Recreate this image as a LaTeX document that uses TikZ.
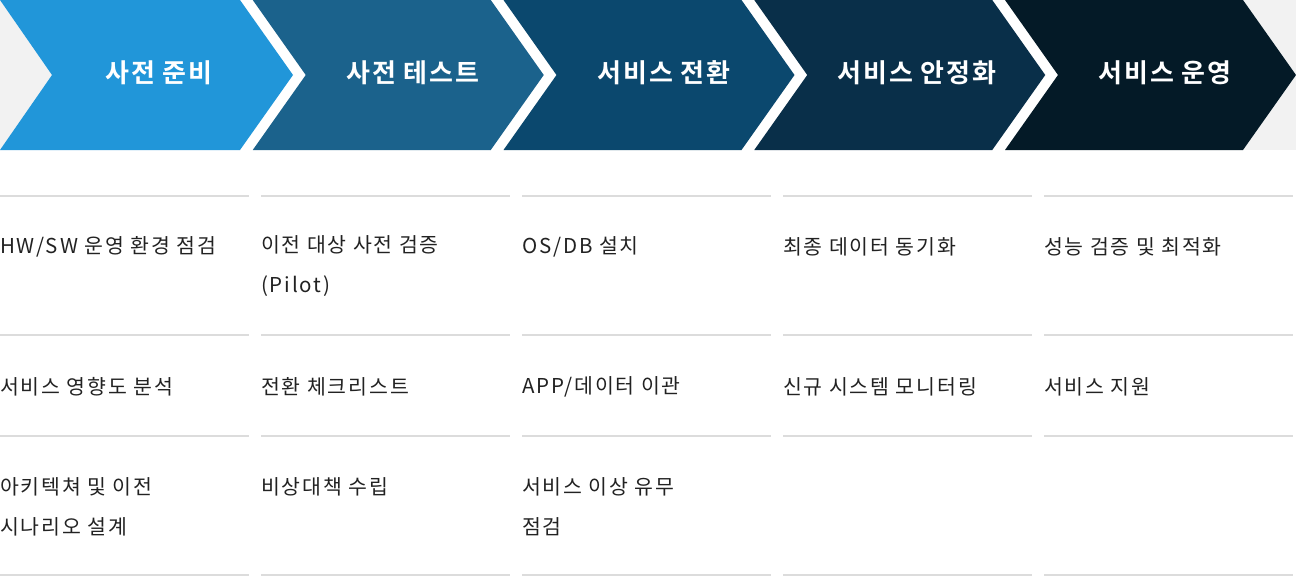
\documentclass[tikz,border=0pt]{standalone}
\usepackage{fontspec}
\newfontfamily\kr{Noto Sans CJK KR}[LetterSpace=9]
\newfontfamily\krb{Noto Sans CJK KR Bold}[LetterSpace=8]
\definecolor{bggray}{RGB}{242,242,242}
\definecolor{cA}{RGB}{33,150,217}
\definecolor{cB}{RGB}{27,98,140}
\definecolor{cC}{RGB}{11,72,110}
\definecolor{cD}{RGB}{9,47,73}
\definecolor{cE}{RGB}{4,26,39}
\definecolor{sep}{RGB}{220,220,220}
\definecolor{txt}{RGB}{34,34,34}
\tikzset{
  hdr/.style={text=white, font=\krb\fontsize{26}{30}\selectfont, inner sep=0pt},
  item/.style={text=txt, font=\kr\fontsize{20.5}{40}\selectfont, anchor=west, align=left, inner sep=0pt},
  rowline/.style={draw=sep, line width=2pt},
}
\begin{document}
\begin{tikzpicture}[x=1pt,y=-1pt]
\useasboundingbox (0,0) rectangle (1296,576);
\fill[white] (0,0) rectangle (1296,576);
\fill[bggray] (0,0) rectangle (1296,150);
% white band under the chevrons
\fill[white] (0,0) -- (1243,0) -- (1296,75) -- (1243,150) -- (0,150) -- (52,75) -- cycle;
% chevrons
\foreach \k/\c in {0/cA,1/cB,2/cC,3/cD,4/cE}{
  \pgfmathsetmacro{\L}{\k==0 ? 0 : 2+250.75*\k}
  \pgfmathsetmacro{\R}{240+250.75*\k}
  \pgfmathsetmacro{\dl}{\k==0 ? 52 : 53}
  \fill[\c] (\L,0) -- (\R,0) -- (\R+53,75) -- (\R,150) -- (\L,150) -- (\L+\dl,75) -- cycle;
}
% headers
\node[hdr] (h1) at (159,73) {사전 준비};
\node[hdr] (h2) at (413,73) {사전 테스트};
\node[hdr] (h3) at (664,73) {서비스 전환};
\node[hdr] (h4) at (917,73) {서비스 안정화};
\node[hdr] (h5) at (1165,73) {서비스 운영};
% separator lines
\foreach \x in {0,261,522,783,1044}{
  \foreach \y in {196,335,436,575}{
    \draw[rowline] (\x,\y) -- (\x+249,\y);
  }
}
% items
\node[item] (a1) at (0,246.5) {HW/SW 운영 환경 점검};
\node[item] (a2) at (0,386.5) {서비스 영향도 분석};
\node[item] (a3) at (0,506.5) {아키텍쳐 및 이전\\시나리오 설계};
\node[item] (b1) at (261,266.5) {이전 대상 사전 검증\\(Pilot)};
\node[item] (b2) at (261,386.5) {전환 체크리스트};
\node[item] (b3) at (261,486.5) {비상대책 수립};
\node[item] (c1) at (522,246.5) {OS/DB 설치};
\node[item] (c2) at (522,386.5) {APP/데이터 이관};
\node[item] (c3) at (522,506.5) {서비스 이상 유무\\점검};
\node[item] (d1) at (783,246.5) {최종 데이터 동기화};
\node[item] (d2) at (783,386.5) {신규 시스템 모니터링};
\node[item] (e1) at (1044,246.5) {성능 검증 및 최적화};
\node[item] (e2) at (1044,386.5) {서비스 지원};
\end{tikzpicture}
\end{document}
